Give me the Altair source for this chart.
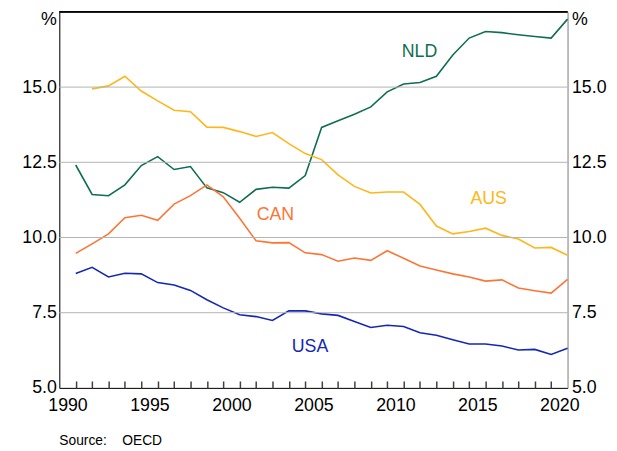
import altair as alt
import pandas as pd

years = list(range(1990, 2021))
nld = [12.41, 11.43, 11.39, 11.75, 12.39, 12.69, 12.26, 12.36, 11.65, 11.49, 11.17,
       11.60, 11.67, 11.64, 12.06, 13.66, 13.88, 14.10, 14.34, 14.84, 15.10, 15.15,
       15.36, 16.07, 16.63, 16.85, 16.81, 16.74, 16.68, 16.63, 17.26]
aus = [None, 14.94, 15.04, 15.36, 14.87, 14.54, 14.23, 14.18, 13.67, 13.66, 13.52,
       13.36, 13.49, 13.12, 12.79, 12.59, 12.08, 11.70, 11.48, 11.51, 11.51, 11.10,
       10.38, 10.12, 10.20, 10.31, 10.07, 9.95, 9.65, 9.67, 9.41]
can = [9.47, 9.79, 10.12, 10.66, 10.74, 10.57, 11.11, 11.39, 11.75, 11.35, 10.64,
       9.89, 9.82, 9.83, 9.49, 9.43, 9.21, 9.32, 9.24, 9.56, 9.31, 9.05,
       8.92, 8.79, 8.69, 8.55, 8.59, 8.32, 8.23, 8.15, 8.61]
usa = [8.80, 9.01, 8.69, 8.81, 8.79, 8.50, 8.42, 8.24, 7.93, 7.66, 7.43,
       7.37, 7.24, 7.56, 7.56, 7.46, 7.41, 7.21, 7.01, 7.08, 7.04, 6.83,
       6.75, 6.60, 6.46, 6.46, 6.39, 6.26, 6.28, 6.11, 6.32]

countries = ["NLD", "AUS", "CAN", "USA"]
colors = ["#0f6e52", "#fdb71a", "#fb7635", "#1428b4"]

label_text = ["NLD", "CAN", "AUS", "USA"]
label_x = [2011.97, 2003.18, 2016.19, 2005.29]
label_y = [16.16, 10.75, 11.27, 6.35]

y_ticks = [5, 7.5, 10, 12.5, 15, 17.5]
grid_vals = [7.5, 10, 12.5, 15]
x_label_vals = [y + 0.5 for y in range(1990, 2021, 5)]
tick_years = list(range(1991, 2021))

rows = []
for name, vals in zip(countries, [nld, aus, can, usa]):
    for yr, v in zip(years, vals):
        if v is not None:
            rows.append({"country": name, "year": yr, "value": v})
df = pd.DataFrame(rows)

labels_df = pd.DataFrame({"text": label_text, "x": label_x, "y": label_y})
grid_df = pd.DataFrame({"v": grid_vals})
ticks_df = pd.DataFrame({"t": tick_years})

W, H = 515, 381
xscale = alt.Scale(domain=[1990, 2021], nice=False, zero=False)
yscale = alt.Scale(domain=[5, 17.5], nice=False, zero=False)
FONT = "Liberation Sans"

x_axis = alt.Axis(values=x_label_vals, labelExpr="'' + floor(datum.value)",
                  tickSize=0, grid=False, domainColor="black", labelColor="black",
                  labelFontSize=18, labelFont=FONT, labelPadding=9, labelFlush=False,
                  title=None)

# inward year ticks: a top-oriented axis moved down onto the bottom edge
tick_axis = alt.Axis(values=tick_years, orient="top", offset=-H, labels=False,
                     domain=False, grid=False, ticks=True, tickSize=7,
                     tickColor="#404040", tickWidth=1.5, title=None)

left_axis = alt.Axis(values=y_ticks, orient="left",
                     labelExpr="datum.value == 17.5 ? '%' : format(datum.value, '.1f')",
                     tickSize=0, grid=False, domainColor="black", labelColor="black",
                     labelFontSize=18, labelFont=FONT, labelPadding=3, labelFlush=False,
                     labelOffset={"condition": {"test": "datum.value == 17.5", "value": 8}, "value": 0},
                     title=None)
right_axis = alt.Axis(values=y_ticks, orient="right",
                      labelExpr="datum.value == 17.5 ? '%' : format(datum.value, '.1f')",
                      tickSize=0, grid=False, domainColor="#8c8c8c", labelColor="black",
                      labelFontSize=18, labelFont=FONT, labelPadding=4, labelFlush=False,
                      labelOffset={"condition": {"test": "datum.value == 17.5", "value": 8}, "value": 0},
                      title=None)

grid = alt.Chart(grid_df).mark_rule(color="#b4b4b4", strokeWidth=1).encode(
    y=alt.Y("v:Q", scale=yscale, axis=right_axis)
)

tick_layer = alt.Chart(ticks_df).mark_rule(opacity=0).encode(
    x=alt.X("t:Q", scale=xscale, axis=tick_axis)
)

lines = alt.Chart(df).transform_calculate(xpos="datum.year + 1").mark_line(
    strokeWidth=1.6
).encode(
    x=alt.X("xpos:Q", scale=xscale, axis=x_axis),
    y=alt.Y("value:Q", scale=yscale, axis=left_axis),
    color=alt.Color("country:N", scale=alt.Scale(domain=countries, range=colors), legend=None),
)

top = alt.Chart(grid_df).mark_rule(color="black", strokeWidth=1).encode(
    y=alt.datum(17.5)
)

text = alt.Chart(labels_df).mark_text(fontSize=18, font=FONT).encode(
    x=alt.X("x:Q", scale=xscale),
    y=alt.Y("y:Q", scale=yscale),
    text="text:N",
    color=alt.Color("text:N", scale=alt.Scale(domain=countries, range=colors), legend=None),
)

main = alt.layer(lines, top, text)

chart = alt.layer(main, grid, tick_layer).resolve_scale(y="independent", x="independent").properties(
    width=W, height=H,
    title=alt.TitleParams(text="Source:\u00a0\u00a0\u00a0\u00a0OECD", orient="bottom",
                          anchor="start", frame="group", fontSize=14, fontWeight="normal",
                          font=FONT, color="black", baseline="top", offset=20),
    autosize=alt.AutoSizeParams(type="none"),
    padding={"left": 52, "top": 1, "right": 42, "bottom": 61},
).configure_view(stroke=None).configure(background="white")

chart.save("out.html", embed_options={"renderer": "svg", "actions": False})
